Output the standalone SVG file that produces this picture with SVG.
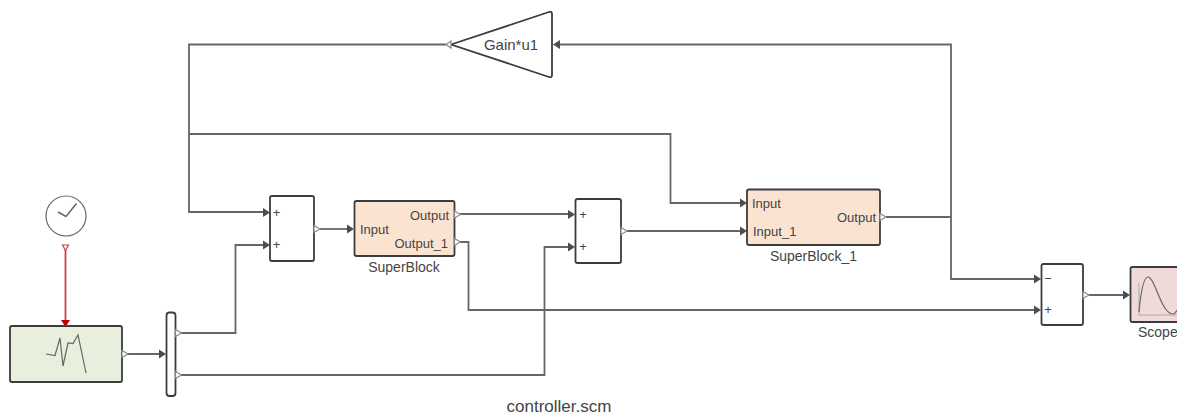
<svg xmlns="http://www.w3.org/2000/svg" width="1177" height="415" viewBox="0 0 1177 415">
<style>
text{font-family:"Liberation Sans",Arial,sans-serif;font-size:13px;fill:#444}
.b{stroke:#3c3c3c;stroke-width:1.800;fill:#fff}
.c{fill:none;stroke:#666;stroke-width:1.800}
.o{fill:#fff;stroke:#888;stroke-width:1.200}
.a{fill:#4d4d4d}
.g{fill:none;stroke:#666;stroke-width:1.200}
.l{font-size:14px}
.s{font-size:15px}
</style>
<defs>
<path id="in" d="M-7,-4.500L0,0L-7,4.500Z"/>
<path id="out" d="M0,-3.500L6,0L0,3.500Z"/>
</defs>
<g id="connectors">
<path d="M65.500,250V321" fill="none" stroke="#cc4044" stroke-width="1.800"/>
<path class="c" d="M127,354H161"/>
<path class="c" d="M181,333H235.500V245H265"/>
<path class="c" d="M181,375H544.500V247H570"/>
<path class="c" d="M320,229H349"/>
<path class="c" d="M460,214H570"/>
<path class="c" d="M460,242H468.500V310H1036"/>
<path class="c" d="M627,231H742"/>
<path class="c" d="M886,217H951"/>
<path class="c" d="M951,217V44.500H558"/>
<path class="c" d="M951,217V279H1036"/>
<path class="c" d="M446,44.500H189V212H265"/>
<path class="c" d="M189,134H670.500V203H742"/>
<path class="c" d="M1089,295H1125"/>
<path d="M65.500,327L61,320H70Z" fill="#c00000"/>
<path d="M62.500,245H68.500L65.500,250.500Z" fill="#fff" stroke="#d04040" stroke-width="1.200"/>
<use href="#in" class="a" x="166" y="354"/>
<use href="#in" class="a" x="270" y="212.500"/>
<use href="#in" class="a" x="270" y="245"/>
<use href="#in" class="a" x="354" y="229"/>
<use href="#in" class="a" x="575" y="214.500"/>
<use href="#in" class="a" x="575" y="247"/>
<use href="#in" class="a" x="747" y="203"/>
<use href="#in" class="a" x="747" y="231"/>
<use href="#in" class="a" x="1041" y="279"/>
<use href="#in" class="a" x="1041" y="310"/>
<use href="#in" class="a" x="1130" y="295"/>
<path class="a" d="M553,44.500L560,40V49Z"/>
</g>
<g id="clock">
<circle cx="66" cy="216" r="20" fill="#fff" stroke="#666" stroke-width="1.200"/>
<path d="M66,216.500L76.500,203.500M66,216.500L58,212" fill="none" stroke="#666" stroke-width="1.500"/>
</g>
<g id="source">
<rect class="b" x="10" y="326" width="112" height="56" rx="2" style="fill:#e8efdc"/>
<path class="g" d="M46,354L55,355.500L60,338L63,366L68,343L73,343.500L78,335L86,373"/>
<use href="#out" class="o" x="122" y="354"/>
</g>
<g id="mux">
<rect class="b" x="166.500" y="312.500" width="9" height="83.500" rx="3"/>
<use href="#out" class="o" x="175.500" y="333"/>
<use href="#out" class="o" x="175.500" y="375"/>
</g>
<g id="sum1">
<rect class="b" x="270" y="196" width="44" height="65" rx="2"/>
<text x="276.500" y="217" text-anchor="middle">+</text>
<text x="276.500" y="249" text-anchor="middle">+</text>
<use href="#out" class="o" x="314" y="229"/>
</g>
<g id="SuperBlock">
<rect class="b" x="354.500" y="201" width="100" height="55" rx="2" style="fill:#fbe3d2"/>
<text x="360" y="234">Input</text>
<text x="449" y="220" text-anchor="end">Output</text>
<text x="448" y="248" text-anchor="end">Output_1</text>
<text x="404" y="272" text-anchor="middle" class="l">SuperBlock</text>
<use href="#out" class="o" x="454.500" y="214.500"/>
<use href="#out" class="o" x="454.500" y="242"/>
</g>
<g id="sum2">
<rect class="b" x="575.500" y="199" width="45.500" height="64" rx="2"/>
<text x="583" y="219" text-anchor="middle">+</text>
<text x="583" y="251" text-anchor="middle">+</text>
<use href="#out" class="o" x="621" y="231"/>
</g>
<g id="SuperBlock_1">
<rect class="b" x="747" y="189.500" width="133" height="55.500" rx="2" style="fill:#fbe3d2"/>
<text x="752" y="208">Input</text>
<text x="753" y="236">Input_1</text>
<text x="876" y="222" text-anchor="end">Output</text>
<text x="813.500" y="261" text-anchor="middle" class="l">SuperBlock_1</text>
<use href="#out" class="o" x="880" y="217"/>
</g>
<g id="gain">
<path class="b" d="M451,44.500L549,12Q552,11 552,14V75Q552,78 549,77Z"/>
<text x="511" y="50" text-anchor="middle" class="s">Gain*u1</text>
<path class="o" d="M451,41L446,44.500L451,48Z"/>
</g>
<g id="sum3">
<rect class="b" x="1041.500" y="264" width="41.500" height="61" rx="2"/>
<text x="1048" y="283" text-anchor="middle">−</text>
<text x="1048" y="314" text-anchor="middle">+</text>
<use href="#out" class="o" x="1083" y="295"/>
</g>
<g id="scope">
<rect class="b" x="1130.500" y="267" width="60" height="55" rx="2" style="fill:#f0d9d9"/>
<path d="M1139,283V315H1177" fill="none" stroke="#aaa" stroke-width="1"/>
<path class="g" d="M1139,312C1141,290 1144,277 1148,277C1155,277 1161,314 1173,314C1175,314 1176,312 1177,310"/>
<text x="1138" y="337" class="l">Scope</text>
</g>
<text id="title" x="559" y="412" text-anchor="middle" style="font-size:17px">controller.scm</text>
</svg>
